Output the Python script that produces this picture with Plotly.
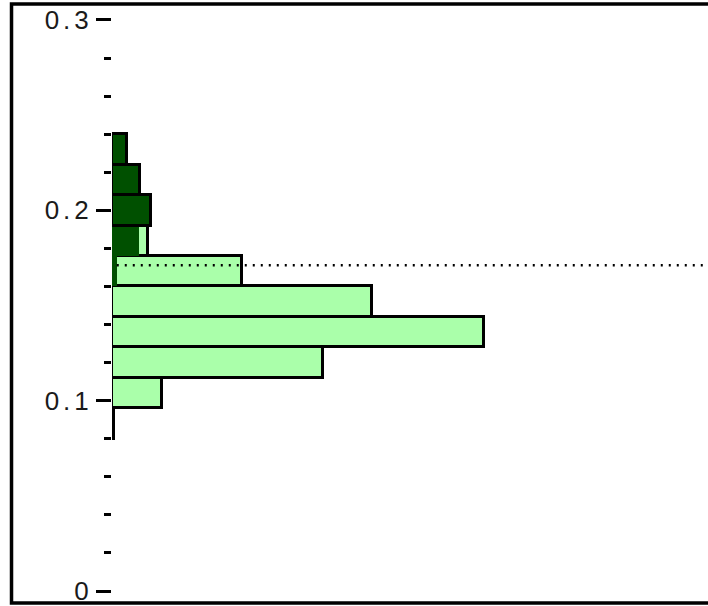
import plotly.graph_objects as go

# Histogram bins (lower edges) and bar lengths for the two groups
bin_width = 0.016
light_bins = [0.080, 0.096, 0.112, 0.128, 0.144, 0.160, 0.176]
light_values = [0.4, 8.4, 35.4, 62.4, 43.6, 21.8, 6.0]
dark_bins = [0.160, 0.176, 0.192, 0.208, 0.224]
dark_values = [0.8, 4.5, 6.5, 4.7, 2.5]
dark_outline = [0, 0, 3, 3, 3]

# Reference level drawn as a dotted line
ref_level = 0.1712

# Axis ticks
major_ticks = [0, 0.1, 0.2, 0.3]
major_labels = ["0", "0.1", "0.2", "0.3"]
minor_ticks = [0.02, 0.04, 0.06, 0.08, 0.12, 0.14, 0.16, 0.18,
               0.22, 0.24, 0.26, 0.28]

LIGHT = "#aaffaa"
DARK = "#005000"

fig = go.Figure()
fig.add_trace(go.Bar(
    orientation="h",
    y=[b + bin_width / 2 for b in light_bins],
    x=light_values,
    width=bin_width,
    marker=dict(color=LIGHT, line=dict(color="black", width=3)),
    showlegend=False,
))
fig.add_trace(go.Bar(
    orientation="h",
    y=[b + bin_width / 2 for b in dark_bins],
    x=dark_values,
    width=bin_width,
    marker=dict(color=DARK, line=dict(color="black", width=dark_outline)),
    showlegend=False,
))

fig.add_shape(type="line", xref="x", yref="y",
              x0=0.8, x1=99.7, y0=ref_level, y1=ref_level,
              line=dict(color="black", width=2.5, dash="2px,6px"))

# Outer frame around the whole panel
fig.add_shape(type="rect", xref="paper", yref="paper",
              x0=-0.1686, x1=1.02, y0=0, y1=1,
              line=dict(color="black", width=3.5))

fig.update_layout(
    width=708, height=606,
    margin=dict(l=112, r=0, t=4, b=1),
    paper_bgcolor="white", plot_bgcolor="white",
    barmode="overlay", bargap=0,
    xaxis=dict(visible=False, range=[0, 100]),
    yaxis=dict(
        range=[-0.006283, 0.308377],
        tickmode="array", tickvals=major_ticks, ticktext=major_labels,
        ticks="outside", ticklen=15, tickwidth=3, tickcolor="black",
        ticklabelstandoff=-2, ticklabeloverflow="allow",
        tickfont=dict(family="Liberation Sans, Arial", size=26, color="#1a1a1a"),
        showgrid=False, zeroline=False, showline=False,
        minor=dict(tickmode="array", tickvals=minor_ticks, ticks="outside",
                   ticklen=7, tickwidth=3, tickcolor="black", showgrid=False),
    ),
)

# Spread the axis label glyphs a little
spacing_js = (
    "var gd = document.getElementById('{plot_id}');"
    "gd.querySelectorAll('.ytick text').forEach("
    "function(t){t.style.letterSpacing='4px';});"
)

fig.write_html("out.html", post_script=spacing_js)
